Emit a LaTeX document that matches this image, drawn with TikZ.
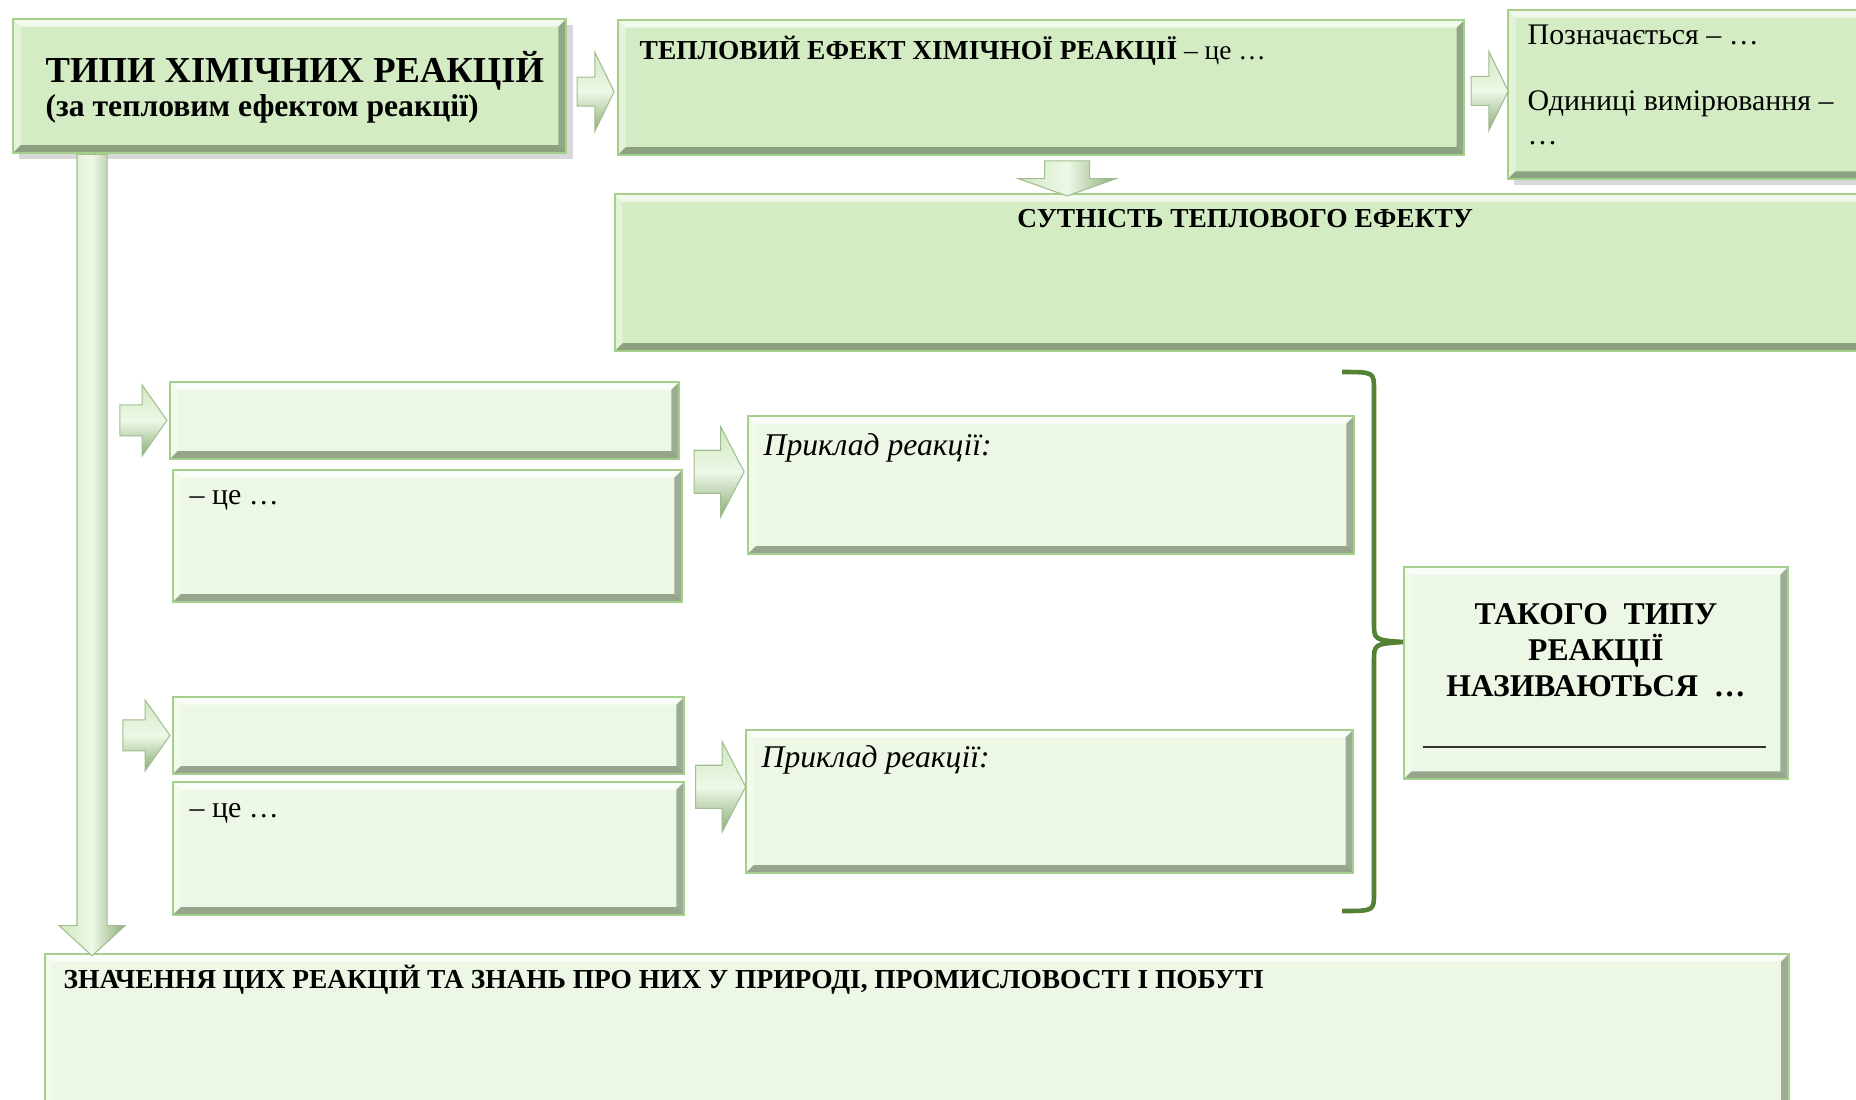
\documentclass[tikz,border=0pt]{standalone}
\usepackage{fontspec}
\setmainfont{Liberation Serif}
\usepackage{tikz}
\usetikzlibrary{shapes.arrows}
\usetikzlibrary{shadows}
\usetikzlibrary{calc}
\definecolor{leafgreen}{RGB}{212,236,196}
\definecolor{palegreen}{RGB}{236,248,229}
\definecolor{rimgreen}{RGB}{165,208,140}
\definecolor{bevelshade}{RGB}{92,112,82}
\definecolor{bracegreen}{RGB}{84,130,53}
\definecolor{arrowlight}{RGB}{238,248,231}
\definecolor{arrowmid}{RGB}{208,232,192}
\definecolor{arrowdark}{RGB}{138,172,118}
\tikzstyle{bevel}=[path picture={
    \path (path picture bounding box.north west) coordinate (nw)
          (path picture bounding box.north east) coordinate (ne)
          (path picture bounding box.south west) coordinate (sw)
          (path picture bounding box.south east) coordinate (se);
    \fill[white, opacity=.7] (nw) -- (ne) -- ([shift={(-2.2pt,-2.2pt)}]ne) -- ([shift={(2.2pt,-2.2pt)}]nw) -- cycle;
    \fill[white, opacity=.35] (nw) -- ([shift={(2.2pt,-2.2pt)}]nw) -- ([shift={(2.2pt,2.2pt)}]sw) -- (sw) -- cycle;
    \fill[bevelshade, opacity=.6] (sw) -- (se) -- ([shift={(-2.2pt,2.2pt)}]se) -- ([shift={(2.2pt,2.2pt)}]sw) -- cycle;
    \fill[bevelshade, opacity=.55] (ne) -- (se) -- ([shift={(-2.2pt,2.2pt)}]se) -- ([shift={(-2.2pt,-2.2pt)}]ne) -- cycle;
}]
\tikzstyle{panel}=[draw=rimgreen, line width=0.5pt, inner sep=0pt, anchor=north west, bevel]
\tikzstyle{toppanel}=[panel, fill=leafgreen]
\tikzstyle{lowpanel}=[panel, fill=palegreen]
\tikzstyle{softshadow}=[drop shadow={shadow xshift=1.8pt, shadow yshift=-1.8pt, opacity=.3}]
\tikzstyle{blockarrow}=[single arrow, inner xsep=0pt, draw=arrowdark!80, line width=0.3pt]
\tikzstyle{harrow}=[blockarrow, top color=arrowmid, bottom color=arrowdark, middle color=arrowlight]
\tikzstyle{varrow}=[blockarrow, rotate=-90, left color=arrowmid, right color=arrowdark, middle color=arrowlight]
\tikzstyle{linkarrow}=[harrow, inner ysep=0.14cm, single arrow head extend=0.25cm, single arrow tip angle=128, minimum height=0.37cm]
\tikzstyle{rowarrow}=[harrow, inner ysep=0.15cm, single arrow head extend=0.2cm, single arrow tip angle=110, minimum height=0.47cm]
\tikzstyle{examplearrow}=[harrow, inner ysep=0.21cm, single arrow head extend=0.235cm, single arrow tip angle=125, minimum height=0.5cm]
\tikzstyle{caption}=[inner sep=0pt, anchor=base west]
\tikzstyle{capsfont}=[font=\fontsize{7.8}{9}\selectfont\bfseries]
\tikzstyle{bodyfont}=[font=\fontsize{8.5}{10}\selectfont]

\begin{document}
\begin{tikzpicture}[x=0.01cm, y=-0.01cm]
    \path[use as bounding box, fill=white] (0,0) rectangle (1856,1099);

    % boxes of the upper band
    \node[toppanel, softshadow, minimum width=5.53cm, minimum height=1.34cm] (title) at (12,18) {};
    \node[toppanel, minimum width=8.46cm, minimum height=1.35cm] (thermal) at (617,19) {};
    \node[toppanel, softshadow, minimum width=3.70cm, minimum height=1.69cm] (notation) at (1507,9) {};
    \node[toppanel, minimum width=12.60cm, minimum height=1.57cm] (essence) at (614,193) {};

    % boxes for the two kinds of reaction
    \node[lowpanel, minimum width=5.09cm, minimum height=0.77cm] (typeAname) at (169,381) {};
    \node[lowpanel, minimum width=5.09cm, minimum height=1.32cm] (typeAdef) at (172,469) {};
    \node[lowpanel, minimum width=6.06cm, minimum height=1.38cm] (exA) at (747,415) {};
    \node[lowpanel, minimum width=5.11cm, minimum height=0.77cm] (typeBname) at (172,696) {};
    \node[lowpanel, minimum width=5.11cm, minimum height=1.33cm] (typeBdef) at (172,781) {};
    \node[lowpanel, minimum width=6.07cm, minimum height=1.43cm] (exB) at (745,729) {};
    \node[lowpanel, minimum width=3.84cm, minimum height=2.12cm] (naming) at (1403,566) {};
    \node[lowpanel, minimum width=17.43cm, minimum height=1.60cm] (meaning) at (44,953) {};

    % block arrows
    \node[varrow, anchor=tail, inner ysep=0.145cm, single arrow head extend=0.18cm,
          single arrow tip angle=95, minimum height=8.01cm] (spine) at ([xshift=0.8cm]title.south west) {};
    \node[linkarrow] (toThermal) at ($(title.east)!.5!(thermal.west)+(0,5)$) {};
    \node[linkarrow] (toNotation) at ($(thermal.east)!.5!(notation.west)$) {};
    \node[varrow, inner ysep=0.22cm, single arrow head extend=0.265cm,
          single arrow tip angle=141, minimum height=0.35cm] (toEssence)
          at ($(thermal.south)!.5!(thermal.south |- essence.north)+(26,0)$) {};
    \node[rowarrow] (toTypeA) at ([xshift=-0.31cm]typeAname.west) {};
    \node[rowarrow] (toTypeB) at ([xshift=-0.31cm]typeBname.west) {};
    \node[examplearrow] (toExA) at ($(typeAname.south east)!.5!(exA.west |- typeAname.south east)+(0,12)$) {};
    \node[examplearrow] (toExB) at ($(typeBname.south east)!.5!(exB.west |- typeBname.south east)+(0,12)$) {};

    % brace joining both examples
    \coordinate (bracetop) at (1342,372);
    \coordinate (bracebottom) at (1342,911);
    \coordinate (bracetip) at (1403,642);
    \draw[bracegreen, line width=1.3pt]
        (bracetop) .. controls (1374,372) .. (1374,390) -- (1374,622)
        .. controls (1374,640) .. (bracetip) .. controls (1374,644) .. (1374,662)
        -- (1374,893) .. controls (1374,911) .. (bracebottom);

    % texts
    \node[caption, font=\fontsize{10.4}{12}\selectfont\bfseries] (titleline) at ([shift={(33,64)}]title.north west) {ТИПИ ХІМІЧНИХ РЕАКЦІЙ};
    \node[caption, font=\fontsize{9}{11}\selectfont\bfseries] (subtitleline) at ([shift={(33,98)}]title.north west) {(за тепловим ефектом реакції)};
    \node[caption, capsfont] (thermaltext) at ([shift={(22,40)}]thermal.north west) {ТЕПЛОВИЙ ЕФЕКТ ХІМІЧНОЇ РЕАКЦІЇ \mdseries – це …};
    \node[caption, bodyfont] (notationtext) at ([shift={(20,35)}]notation.north west) {Позначається – …};
    \node[caption, bodyfont] (unitstext) at ([shift={(20,101)}]notation.north west) {Одиниці вимірювання –};
    \node[caption, bodyfont] (unitsdots) at ([shift={(20,135)}]notation.north west) {…};
    \node[caption, capsfont, anchor=base] (essencetext) at ($(essence.north)+(0,34)$) {СУТНІСТЬ ТЕПЛОВОГО ЕФЕКТУ};
    \node[caption, bodyfont] (typeAtext) at ([shift={(17,35)}]typeAdef.north west) {– це …};
    \node[caption, bodyfont] (typeBtext) at ([shift={(17,36)}]typeBdef.north west) {– це …};
    \node[caption, font=\fontsize{9}{11}\selectfont\itshape] (exAtext) at ([shift={(16,40)}]exA.north west) {Приклад реакції:};
    \node[caption, font=\fontsize{9}{11}\selectfont\itshape] (exBtext) at ([shift={(16,38)}]exB.north west) {Приклад реакції:};
    \foreach \line [count=\k] in {ТАКОГО\ \ ТИПУ, РЕАКЦІЇ, НАЗИВАЮТЬСЯ\ \ …}
        \node[caption, anchor=base, font=\fontsize{9}{11}\selectfont\bfseries] (naming\k) at ($(naming.north)+(0,{22+36*\k})$) {\line};
    \draw[line width=0.6pt, black!80] ([shift={(20,181)}]naming.north west) -- ([shift={(-23,181)}]naming.north east);
    \node[caption, capsfont] (meaningtext) at ([shift={(19,35)}]meaning.north west) {ЗНАЧЕННЯ ЦИХ РЕАКЦІЙ ТА ЗНАНЬ ПРО НИХ У ПРИРОДІ, ПРОМИСЛОВОСТІ І ПОБУТІ};
\end{tikzpicture}
\end{document}
